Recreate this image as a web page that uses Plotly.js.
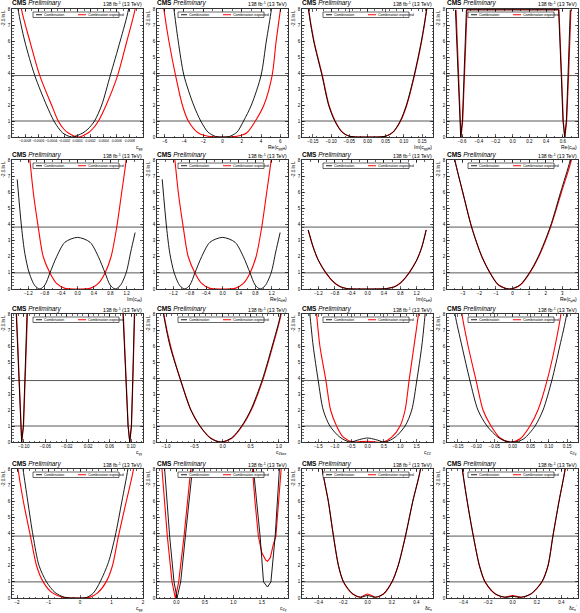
<!DOCTYPE html>
<html><head><meta charset="utf-8">
<script src="https://cdn.plot.ly/plotly-3.0.1.min.js"></script>
<style>html,body{margin:0;padding:0;background:#fff}#chart{width:580px;height:613px}</style>
</head><body><div id="chart"></div>
<script>
// ---------------- data ----------------
const yTicks = [0,1,2,3,4,5,6,7,8];
const thresholds = [1, 3.84];
const legendLabels = ["Combination", "Combination expected"];
const xLabels = ["c<sub>gg</sub>","Re(c<sub>ggH</sub>)","Im(c<sub>ggH</sub>)","Re(c<sub>tH</sub>)",
                 "Im(c<sub>tH</sub>)","Re(c<sub>bH</sub>)","Im(c<sub>bH</sub>)","Re(c<sub>μH</sub>)",
                 "c<sub>γγ</sub>","c<sub>Zbox</sub>","c<sub>ZZ</sub>","c<sub>Zγ</sub>",
                 "c<sub>gg</sub>","c<sub>Zγ</sub>","δc<sub>z</sub>","δc<sub>z</sub><sup>&#8242;</sup>"];

const xTicks1 = [-0.0008,-0.0006,-0.0004,-0.0002,0,0.0002,0.0004,0.0006,0.0008];
const obs1X = [-0.00096,-0.000908,-0.000806,-0.000652,-0.000474,-0.00036,-0.00028,-0.000225,-0.00009,0.00008,0.00016,0.00026,0.00037,0.0005,0.000652,0.00078,0.00084];
const obs1Y = [10,8,6,3.84,2,1,0.5,0.25,0,0.25,0.5,1,2,3.84,6,8,10];
const exp1X = [-0.00091,-0.000856,-0.000728,-0.000576,-0.000396,-0.000294,-0.00021,-0.00014,0.000012,0.00016,0.00023,0.00032,0.000438,0.000612,0.000754,0.00088,0.00094];
const exp1Y = [10,8,6,3.84,2,1,0.5,0.25,0,0.25,0.5,1,2,3.84,6,8,10];

const xTicks2 = [-6,-4,-2,0,2,4,6];
const obs2X = [-5.4,-5.04,-4.6,-4.0,-3.0,-2.26,-1.5,-0.7,0,0.7,1.5,2.19,3.0,4.0,4.55,5.08,5.4];
const obs2Y = [10,8,6,3.84,2,1,0.3,0.03,0,0.03,0.3,1,2,3.84,6,8,10];
const exp2X = [-6.5,-6.09,-5.57,-4.87,-4.17,-3.55,-2.5,-1.5,0,1.5,2.5,3.41,4.3,5.15,5.57,6.02,6.4];
const exp2Y = [10,8,6,3.84,2,1,0.25,0.05,0,0.05,0.25,1,2,3.84,6,8,10];

const xTicks3 = [-0.15,-0.10,-0.05,0,0.05,0.10,0.15];
const obs3X = [-0.172,-0.1625,-0.148,-0.125,-0.107,-0.09,-0.07,-0.05,0,0.05,0.07,0.09,0.107,0.128,0.148,0.1625,0.172];
const obs3Y = [10,8,6,3.84,2,1,0.3,0.05,0,0.05,0.3,1,2,3.84,6,8,10];
const exp3X = [-0.171,-0.162,-0.147,-0.124,-0.106,-0.089,-0.069,-0.05,0,0.05,0.07,0.091,0.108,0.129,0.149,0.163,0.173];
const exp3Y = [10,8,6,3.84,2,1,0.3,0.05,0,0.05,0.3,1,2,3.84,6,8,10];

const xTicks4 = [-0.6,-0.4,-0.2,0,0.2,0.4,0.6];
const obs4X = [-0.68,-0.649,-0.628,-0.617,-0.597,-0.577,-0.549,0,0.549,0.581,0.601,0.621,0.641,0.661,0.688];
const obs4Y = [7.95,3.84,1,0,1,3.84,7.95,7.95,7.95,3.84,1,0,1,3.84,7.95];
const exp4X = [-0.672,-0.645,-0.625,-0.613,-0.593,-0.571,-0.541,0,0.553,0.585,0.605,0.625,0.645,0.668,0.696];
const exp4Y = [7.95,3.84,1,0,1,3.84,7.95,7.95,7.95,3.84,1,0,1,3.84,7.95];

const xTicks5 = [-1.2,-0.8,-0.4,0,0.4,0.8,1.2];
const obs5X = [-1.473,-1.367,-1.286,-1.18,-1.04,-0.918,-0.796,-0.673,-0.51,-0.306,0,0.306,0.51,0.673,0.796,0.918,1.04,1.188,1.3,1.408];
const obs5Y = [6.8,3.84,2.2,1,0.2,0,0.25,1,2.0,2.9,3.2,2.9,2.0,1,0.25,0,0.2,1,2.3,3.5];
const exp5X = [-1.245,-1.163,-1.08,-0.959,-0.837,-0.673,-0.51,-0.306,0,0.306,0.51,0.673,0.82,0.959,1.08,1.188,1.245];
const exp5Y = [10,8,6,3.84,2,1,0.35,0.04,0,0.04,0.35,1,2,3.84,6,8,10];

const xTicks6 = [-1.2,-0.8,-0.4,0,0.4,0.8,1.2];
const obs6X = [-1.473,-1.367,-1.286,-1.18,-1.04,-0.918,-0.796,-0.673,-0.51,-0.306,0,0.306,0.51,0.673,0.796,0.918,1.04,1.188,1.3,1.408];
const obs6Y = [6.8,3.84,2.2,1,0.2,0,0.25,1,2.0,2.9,3.2,2.9,2.0,1,0.25,0,0.2,1,2.3,3.5];
const exp6X = [-1.245,-1.163,-1.08,-0.959,-0.837,-0.673,-0.51,-0.306,0,0.306,0.51,0.673,0.82,0.959,1.08,1.188,1.245];
const exp6Y = [10,8,6,3.84,2,1,0.35,0.04,0,0.04,0.35,1,2,3.84,6,8,10];

const xTicks7 = [-1.2,-0.8,-0.4,0,0.4,0.8,1.2];
const obs7X = [-1.449,-1.327,-1.204,-1.016,-0.837,-0.673,-0.51,0,0.47,0.673,0.837,1.016,1.204,1.327,1.433];
const obs7Y = [3.66,2.6,1.8,1,0.45,0.15,0.03,0,0.03,0.15,0.45,1,1.8,2.6,3.66];
const exp7X = [-1.449,-1.327,-1.204,-1.016,-0.837,-0.673,-0.51,0,0.47,0.673,0.837,1.016,1.204,1.327,1.433];
const exp7Y = [3.66,2.6,1.8,1,0.45,0.15,0.03,0,0.03,0.15,0.45,1,1.8,2.6,3.66];

const xTicks8 = [-3,-2,-1,0,1,2,3];
const obs8X = [-3.85,-3.48,-3.0,-2.47,-1.85,-1.36,-0.85,-0.2,0.45,1.02,1.55,2.27,2.9,3.48,3.85];
const obs8Y = [10,8,6,3.84,2,1,0.25,0,0.25,1,2,3.84,6,8,10];
const exp8X = [-3.85,-3.48,-3.0,-2.46,-1.84,-1.35,-0.84,-0.18,0.47,1.04,1.58,2.3,2.95,3.55,3.9];
const exp8Y = [10,8,6,3.84,2,1,0.25,0,0.25,1,2,3.84,6,8,10];

const xTicks9 = [-0.10,-0.06,-0.02,0.02,0.06,0.10];
const obs9X = [-0.1141,-0.1091,-0.1066,-0.1041,-0.1009,-0.0984,-0.0941,null,0.0847,0.0903,0.0941,0.0972,0.1003,0.1028,0.1059];
const obs9Y = [8,3.84,1,0,1,3.84,8,null,8,3.84,1,0,1,3.84,8];
const exp9X = [-0.1135,-0.1088,-0.1063,-0.1038,-0.1005,-0.0978,-0.0932,null,0.0853,0.0908,0.0944,0.0975,0.1006,0.1032,0.1065];
const exp9Y = [8,3.84,1,0,1,3.84,8,null,8,3.84,1,0,1,3.84,8];

const xTicks10 = [-1,-0.5,0,0.5,1];
const obs10X = [-1.12,-1.045,-0.93,-0.74,-0.56,-0.40,-0.22,-0.03,0.16,0.34,0.5,0.70,0.88,1.03,1.1];
const obs10Y = [10,8,6,3.84,2,1,0.25,0,0.25,1,2,3.84,6,8,10];
const exp10X = [-1.12,-1.04,-0.92,-0.74,-0.56,-0.40,-0.21,-0.02,0.17,0.35,0.51,0.71,0.89,1.04,1.11];
const exp10Y = [10,8,6,3.84,2,1,0.25,0,0.25,1,2,3.84,6,8,10];

const xTicks11 = [-1.5,-1,-0.5,0,0.5,1,1.5];
const obs11X = [-1.85,-1.76,-1.658,-1.505,-1.352,-1.148,-0.842,-0.536,-0.25,0,0.25,0.536,0.842,1.148,1.352,1.505,1.658,1.76,1.85];
const obs11Y = [10,8,6,3.84,2,1,0.3,0,0.15,0.25,0.15,0,0.3,1,2,3.84,6,8,10];
const exp11X = [-1.65,-1.556,-1.454,-1.27,-1.128,-0.944,-0.74,-0.434,0,0.485,0.74,0.995,1.148,1.27,1.42,1.556,1.65];
const exp11Y = [10,8,6,3.84,2,1,0.3,0,0.05,0,0.3,1,2,3.84,6,8,10];

const xTicks12 = [-0.15,-0.10,-0.05,0,0.05,0.10,0.15];
const obs12X = [-0.168,-0.158,-0.139,-0.117,-0.095,-0.07,-0.04,-0.018,0.007,0.031,0.062,0.084,0.108,0.13,0.149,0.158];
const obs12Y = [10,8,6,3.84,2,1,0.3,0.05,0,0.2,1,2,3.84,6,8,10];
const exp12X = [-0.148,-0.139,-0.122,-0.1,-0.081,-0.059,-0.034,-0.007,0.021,0.048,0.07,0.095,0.117,0.133,0.142];
const exp12Y = [10,8,6,3.84,2,1,0.25,0,0.2,1,2,3.84,6,8,10];

const xTicks13 = [-2,-1,0,1,2];
const obs13X = [-1.95,-1.81,-1.66,-1.49,-1.3,-1.064,-0.8,-0.5,-0.1,0.2,0.42,0.638,0.9,1.117,1.33,1.52,1.65];
const obs13Y = [10,8,6,3.84,2,1,0.35,0.05,0,0.03,0.3,1,2.2,3.84,6,8,10];
const exp13X = [-2.1,-1.97,-1.8,-1.574,-1.38,-1.17,-0.9,-0.55,0,0.3,0.55,0.83,1.03,1.22,1.47,1.70,1.82];
const exp13Y = [10,8,6,3.84,2,1,0.35,0.05,0,0.04,0.3,1,2,3.84,6,8,10];

const xTicks14 = [0,0.5,1,1.5];
const obs14X = [-0.23,-0.206,-0.118,-0.041,0.012,0.076,0.159,0.282,0.3,null,1.33,1.353,1.47,1.53,1.6,1.66,1.735,1.824,1.845];
const obs14Y = [10,8,3.84,1,0,1,3.84,8,10,null,10,8,3.84,1,0.68,1,3.84,8,10];
const exp14X = [-0.28,-0.253,-0.159,-0.076,-0.018,0.041,0.135,0.253,0.28,null,1.31,1.335,1.38,1.44,1.5,1.57,1.6,1.65,1.7,1.747,1.84,1.86];
const exp14Y = [10,8,3.84,1,0,1,3.84,8,10,null,10,8,6,3.84,2.8,2.35,2.28,2.5,3.3,3.84,8,10];

const xTicks15 = [-0.4,-0.2,0,0.2,0.4];
const obs15X = [-0.4,-0.37,-0.32,-0.278,-0.237,-0.196,-0.12,-0.057,0,0.065,0.13,0.2,0.25,0.31,0.37,0.433,0.46];
const obs15Y = [10,8,6,3.84,2,1,0.25,0.05,0.15,0.05,0.25,1,2,3.84,6,8,10];
const exp15X = [-0.4,-0.37,-0.32,-0.278,-0.237,-0.196,-0.12,-0.057,0,0.065,0.13,0.2,0.25,0.31,0.37,0.433,0.46];
const exp15Y = [10,8,6,3.84,2,1,0.25,0.05,0.25,0.05,0.25,1,2,3.84,6,8,10];

const xTicks16 = [-0.4,-0.2,0,0.2,0.4];
const obs16X = [-0.44,-0.41,-0.37,-0.32,-0.27,-0.224,-0.14,-0.06,0,0.07,0.15,0.24,0.29,0.33,0.38,0.43,0.46];
const obs16Y = [10,8,6,3.84,2,1,0.25,0.05,0.1,0.05,0.25,1,2,3.84,6,8,10];
const exp16X = [-0.44,-0.41,-0.37,-0.32,-0.27,-0.224,-0.14,-0.06,0,0.07,0.15,0.24,0.29,0.33,0.38,0.43,0.46];
const exp16Y = [10,8,6,3.84,2,1,0.25,0.05,0.15,0.05,0.25,1,2,3.84,6,8,10];

const xRanges = [[-0.001,0.001],[-6.8,6.8],[-0.18,0.18],[-0.78,0.78],
                 [-1.6,1.6],[-1.6,1.6],[-1.6,1.6],[-3.95,3.95],
                 [-0.122,0.122],[-1.16,1.16],[-2,2],[-0.18,0.18],
                 [-2.16,2.0],[-0.34,1.96],[-0.535,0.535],[-0.535,0.535]];
const xTickFormats = [".4f", "", ".2f", ".1f", ".1f", ".1f", ".1f", "", ".2f", ".1f", ".1f", ".2f", "", ".1f", ".1f", ".1f"];

const panels = [
  [xTicks1,obs1X,obs1Y,exp1X,exp1Y],[xTicks2,obs2X,obs2Y,exp2X,exp2Y],[xTicks3,obs3X,obs3Y,exp3X,exp3Y],[xTicks4,obs4X,obs4Y,exp4X,exp4Y],
  [xTicks5,obs5X,obs5Y,exp5X,exp5Y],[xTicks6,obs6X,obs6Y,exp6X,exp6Y],[xTicks7,obs7X,obs7Y,exp7X,exp7Y],[xTicks8,obs8X,obs8Y,exp8X,exp8Y],
  [xTicks9,obs9X,obs9Y,exp9X,exp9Y],[xTicks10,obs10X,obs10Y,exp10X,exp10Y],[xTicks11,obs11X,obs11Y,exp11X,exp11Y],[xTicks12,obs12X,obs12Y,exp12X,exp12Y],
  [xTicks13,obs13X,obs13Y,exp13X,exp13Y],[xTicks14,obs14X,obs14Y,exp14X,exp14Y],[xTicks15,obs15X,obs15Y,exp15X,exp15Y],[xTicks16,obs16X,obs16Y,exp16X,exp16Y]
];
const linearPanels = [3,8,13];

// ---------------- layout geometry ----------------
const W = 580, H = 613;
const colL = [12,157,302,447], colW = 131;
const rowT = [9,160,314,469], rowH = [128,129,128,129];
const FONT = "Liberation Sans, Arial, sans-serif";
const fx = p => p / W, fy = p => 1 - p / H;

const traces = [], shapes = [], annotations = [];
const layout = {width:W, height:H, margin:{l:0,r:0,t:0,b:0}, showlegend:false,
  paper_bgcolor:"#fff", plot_bgcolor:"#fff", font:{family:FONT, color:"#000"}};

panels.forEach((p, i) => {
  const r = Math.floor(i/4), c = i % 4;
  const k = i === 0 ? "" : String(i+1);
  const xa = "x"+k, ya = "y"+k;
  const L = colL[c], T = rowT[r], Hh = rowH[r];
  const shape = linearPanels.includes(i) ? "linear" : "spline";
  layout["xaxis"+k] = {domain:[fx(L), fx(L+colW)], anchor:ya, range:xRanges[i],
    tickvals:p[0], tickformat:xTickFormats[i], tickangle:0, exponentformat:"none",
    ticks:"inside", ticklen:3, tickwidth:0.6, tickcolor:"#000",
    showline:true, mirror:"ticks", linecolor:"#000", linewidth:0.8,
    showgrid:false, zeroline:false, tickfont:{size:(i===0?3.3:4.5), family:FONT},
    minor:{ticks:"inside", ticklen:1.5, tickcolor:"#000", nticks:5},
    fixedrange:true, automargin:false};
  layout["yaxis"+k] = {domain:[fy(T+Hh), fy(T)], anchor:xa, range:[0,8],
    tickvals:yTicks, ticks:"inside", ticklen:3, tickwidth:0.6, tickcolor:"#000",
    showline:true, mirror:"ticks", linecolor:"#000", linewidth:0.8,
    showgrid:false, zeroline:false, tickfont:{size:4.5, family:FONT},
    minor:{ticks:"inside", ticklen:1.5, tickcolor:"#000", dtick:0.2},
    fixedrange:true, automargin:false};
  traces.push({type:"scatter", mode:"lines", x:p[3], y:p[4], xaxis:xa, yaxis:ya,
    line:{color:"#ff0000", width:1.1, shape:shape, smoothing:0.8}, connectgaps:false,
    name:legendLabels[1], cliponaxis:true});
  traces.push({type:"scatter", mode:"lines", x:p[1], y:p[2], xaxis:xa, yaxis:ya,
    line:{color:"#000000", width:0.9, shape:shape, smoothing:0.8}, connectgaps:false,
    name:legendLabels[0], cliponaxis:true});
  thresholds.forEach(t => shapes.push({type:"line", xref:xa+" domain", yref:ya,
    x0:0, x1:1, y0:t, y1:t, line:{color:"#444", width:0.9}, layer:"below"}));

  // legend box
  const lx0 = L+21, lx1 = L+107, ly0 = T+3, ly1 = T+8.5, lym = (ly0+ly1)/2;
  shapes.push({type:"rect", xref:"paper", yref:"paper", x0:fx(lx0), x1:fx(lx1), y0:fy(ly1), y1:fy(ly0),
    line:{color:"#000", width:0.6}, fillcolor:"#fff"});
  shapes.push({type:"line", xref:"paper", yref:"paper", x0:fx(lx0+3), x1:fx(lx0+9), y0:fy(lym), y1:fy(lym),
    line:{color:"#000", width:0.9}});
  shapes.push({type:"line", xref:"paper", yref:"paper", x0:fx(lx0+45), x1:fx(lx0+53), y0:fy(lym), y1:fy(lym),
    line:{color:"#ff0000", width:1}});
  annotations.push({xref:"paper", yref:"paper", x:fx(lx0+10), y:fy(lym), xanchor:"left", yanchor:"middle",
    text:legendLabels[0], showarrow:false, font:{size:3.6, family:FONT}, borderpad:0});
  annotations.push({xref:"paper", yref:"paper", x:fx(lx0+54), y:fy(lym), xanchor:"left", yanchor:"middle",
    text:legendLabels[1], showarrow:false, font:{size:3.6, family:FONT}, borderpad:0});

  // CMS Preliminary + lumi
  annotations.push({xref:"paper", yref:"paper", x:fx(L-1), y:fy(T-0.5), xanchor:"left", yanchor:"bottom",
    text:"<b>CMS</b> <i>Preliminary</i>", showarrow:false, font:{size:6.5, family:FONT}, borderpad:0});
  annotations.push({xref:"paper", yref:"paper", x:fx(L+colW), y:fy(T-0.5), xanchor:"right", yanchor:"bottom",
    text:"138 fb<sup>-1</sup> (13 TeV)", showarrow:false, font:{size:5.2, family:FONT}, borderpad:0});
  // y title
  annotations.push({xref:"paper", yref:"paper", x:fx(L-9), y:fy(T), xanchor:"center", yanchor:"top",
    text:"-2 Δ ln L", textangle:-90, showarrow:false, font:{size:4.5, family:FONT}, borderpad:0});
  // x title
  annotations.push({xref:"paper", yref:"paper", x:fx(L+colW), y:fy(T+Hh+6), xanchor:"right", yanchor:"top",
    text:xLabels[i], showarrow:false, font:{size:5, family:FONT}, borderpad:0});
});

layout.shapes = shapes;
layout.annotations = annotations;
Plotly.newPlot("chart", traces, layout, {staticPlot:true, displayModeBar:false});
</script></body></html>
